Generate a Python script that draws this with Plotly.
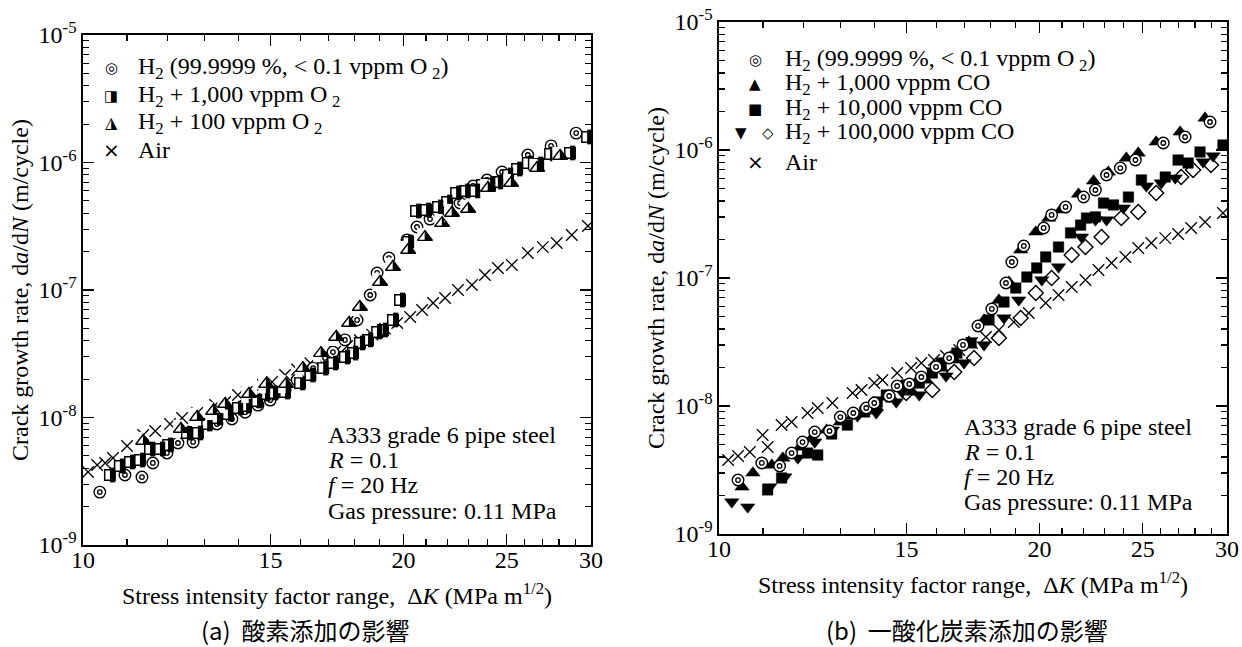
import math
import plotly.graph_objects as go

# ---------------- Panel (a): effect of oxygen addition ----------------
a_air_dk = [10.11, 10.31, 10.49, 10.67, 11.0, 11.39, 11.69, 12.07, 12.39, 12.80, 13.31, 13.60, 13.98, 14.25,
            14.76, 15.05, 15.48, 15.89, 16.35, 16.78, 17.25, 17.70, 18.20, 18.69, 19.22, 19.73, 20.29, 20.82,
            21.32, 21.88, 22.50, 23.19, 23.85, 24.53, 25.28, 26.17, 27.03, 27.86, 28.78, 29.80]
a_air_rate = [3.74e-9, 4.24e-9, 4.40e-9, 4.81e-9, 5.98e-9, 7.29e-9, 7.83e-9, 8.89e-9, 9.91e-9, 1.085e-8,
              1.253e-8, 1.323e-8, 1.502e-8, 1.585e-8, 1.80e-8, 1.90e-8, 2.155e-8, 2.38e-8, 2.66e-8, 2.94e-8,
              3.28e-8, 3.62e-8, 4.04e-8, 4.47e-8, 4.98e-8, 5.51e-8, 6.14e-8, 6.97e-8, 7.91e-8, 8.65e-8,
              1.0e-7, 1.094e-7, 1.31e-7, 1.49e-7, 1.57e-7, 1.95e-7, 2.17e-7, 2.34e-7, 2.70e-7, 3.18e-7]

a_h2_dk = [10.37, 10.95, 11.36, 11.63, 11.99, 12.28, 12.69, 13.36, 13.80, 14.20, 14.60, 14.99, 15.48, 15.89,
           16.45, 16.88, 17.17, 17.62, 18.09, 18.61, 18.89, 19.38, 20.15, 20.59, 21.18, 22.02, 22.60, 23.25,
           23.96, 24.75, 26.17, 27.52, 29.05]
a_h2_rate = [2.60e-9, 3.54e-9, 3.41e-9, 4.40e-9, 5.27e-9, 6.31e-9, 6.43e-9, 8.89e-9, 9.73e-9, 1.10e-8, 1.25e-8,
             1.37e-8, 1.64e-8, 1.97e-8, 2.44e-8, 2.93e-8, 3.26e-8, 4.06e-8, 5.82e-8, 9.14e-8, 1.36e-7, 1.78e-7,
             2.47e-7, 3.12e-7, 3.60e-7, 4.17e-7, 4.81e-7, 6.54e-7, 7.29e-7, 8.42e-7, 1.145e-6, 1.35e-6, 1.70e-6]

a_o2_1000_dk = [10.60, 10.83, 11.07, 11.31, 11.56, 11.81, 12.02, 12.52, 12.82, 13.08, 13.36, 13.68, 13.98,
                14.23, 14.57, 14.82, 15.08, 15.48, 15.99, 16.35, 16.81, 17.17, 17.62, 17.93, 18.20, 18.52,
                18.89, 19.13, 19.55, 19.85, 20.20, 20.55, 21.00, 21.55, 21.98, 22.41, 22.85, 23.35, 23.70,
                24.12, 24.53, 25.07, 25.57, 26.17, 26.76, 27.46, 28.67, 29.75]
a_o2_1000_rate = [3.54e-9, 4.17e-9, 4.48e-9, 4.64e-9, 5.66e-9, 5.66e-9, 6.09e-9, 7.56e-9, 7.56e-9, 8.89e-9,
                  9.91e-9, 1.065e-8, 1.187e-8, 1.23e-8, 1.347e-8, 1.53e-8, 1.557e-8, 1.585e-8, 1.865e-8,
                  2.155e-8, 2.44e-8, 2.675e-8, 2.98e-8, 3.20e-8, 3.84e-8, 4.06e-8, 4.69e-8, 4.86e-8, 5.82e-8,
                  8.35e-8, 2.38e-7, 4.165e-7, 4.24e-7, 4.48e-7, 4.90e-7, 5.77e-7, 5.98e-7, 5.98e-7, 6.66e-7,
                  6.78e-7, 7.03e-7, 7.98e-7, 8.89e-7, 9.91e-7, 9.73e-7, 1.166e-6, 1.188e-6, 1.585e-6]

a_o2_100_dk = [11.39, 12.36, 12.80, 13.25, 13.60, 14.32, 14.86, 15.51, 16.09, 16.73, 17.29, 17.78, 18.20,
               19.01, 19.55, 20.20, 20.95, 21.74, 22.21, 23.00, 24.01, 25.24, 26.70, 28.06]
a_o2_100_rate = [6.54e-9, 8.13e-9, 1.01e-8, 1.125e-8, 1.276e-8, 1.53e-8, 1.83e-8, 1.83e-8, 2.44e-8, 3.20e-8,
                 4.28e-8, 5.51e-8, 7.36e-8, 1.156e-7, 1.515e-7, 2.06e-7, 2.60e-7, 3.35e-7, 4.02e-7, 4.32e-7,
                 6.31e-7, 6.90e-7, 9.06e-7, 1.125e-6]

# ---------------- Panel (b): effect of carbon monoxide addition ----------------
b_air_dk = [10.20, 10.42, 10.69, 10.99, 11.11, 11.45, 11.70, 12.11, 12.38, 12.78, 13.35, 13.61, 13.99, 14.24,
            14.70, 15.15, 15.49, 15.92, 16.34, 16.81, 17.28, 17.81, 18.32, 18.92, 19.54, 20.27, 20.84, 21.44,
            22.09, 22.72, 23.37, 24.08, 24.76, 25.47, 26.25, 26.99, 27.76, 28.61, 29.74]
b_air_rate = [3.79e-9, 4.07e-9, 4.37e-9, 5.93e-9, 4.78e-9, 7.10e-9, 7.50e-9, 8.82e-9, 9.65e-9, 1.055e-8,
              1.263e-8, 1.334e-8, 1.512e-8, 1.596e-8, 1.81e-8, 1.98e-8, 2.17e-8, 2.29e-8, 2.46e-8, 2.74e-8,
              3.11e-8, 3.46e-8, 3.92e-8, 4.53e-8, 5.33e-8, 6.38e-8, 7.36e-8, 8.50e-8, 9.65e-8, 1.155e-7,
              1.31e-7, 1.46e-7, 1.715e-7, 1.876e-7, 2.05e-7, 2.21e-7, 2.46e-7, 2.74e-7, 3.22e-7]

b_h2_dk = [10.42, 10.97, 11.40, 11.70, 11.98, 12.30, 12.70, 13.0, 13.37, 13.75, 13.99, 14.45, 14.70, 15.09,
           15.49, 15.99, 16.45, 16.95, 17.51, 18.04, 18.60, 18.84, 19.33, 20.18, 20.53, 21.16, 22.0, 22.57,
           23.12, 23.82, 24.61, 26.14, 27.40, 28.92]
b_h2_rate = [2.64e-9, 3.59e-9, 3.40e-9, 4.29e-9, 5.23e-9, 6.26e-9, 6.38e-9, 8.20e-9, 8.82e-9, 9.65e-9,
             1.055e-8, 1.197e-8, 1.433e-8, 1.485e-8, 1.685e-8, 2.02e-8, 2.37e-8, 3.0e-8, 4.22e-8, 5.73e-8,
             9.14e-8, 1.334e-7, 1.78e-7, 2.46e-7, 3.11e-7, 3.59e-7, 4.29e-7, 4.87e-7, 6.38e-7, 7.23e-7,
             8.35e-7, 1.134e-6, 1.263e-6, 1.655e-6]

b_co_1000_dk = [10.51, 10.76, 11.21, 11.48, 11.91, 12.22, 12.62, 13.0, 13.35, 13.70, 14.05, 14.55, 15.19,
                15.65, 16.17, 16.63, 17.17, 17.74, 18.32, 18.72, 19.20, 19.84, 20.40, 20.94, 21.76, 22.48,
                23.21, 24.13, 24.76, 25.74, 27.11, 28.61]
b_co_1000_rate = [2.33e-9, 3.0e-9, 3.46e-9, 3.92e-9, 4.78e-9, 5.62e-9, 6.49e-9, 7.50e-9, 8.35e-9, 9.14e-9,
                  9.82e-9, 1.134e-8, 1.286e-8, 1.596e-8, 1.98e-8, 2.29e-8, 3.16e-8, 4.70e-8, 6.73e-8, 9.31e-8,
                  1.655e-7, 2.29e-7, 2.94e-7, 3.40e-7, 4.53e-7, 5.73e-7, 6.73e-7, 8.66e-7, 9.47e-7, 1.155e-6,
                  1.383e-6, 1.778e-6]

b_co_10000_dk = [11.11, 11.45, 12.11, 12.38, 12.76, 13.20, 13.70, 14.08, 14.36, 14.99, 15.42, 15.86, 16.17,
                 16.73, 17.25, 17.93, 18.52, 19.0, 19.46, 19.88, 20.27, 20.84, 21.39, 21.86, 22.14, 22.57,
                 22.97, 23.47, 24.24, 24.93, 26.25, 26.99, 27.58, 28.30, 29.74]
b_co_10000_rate = [2.21e-9, 2.74e-9, 4.29e-9, 4.14e-9, 6.04e-9, 7.10e-9, 8.98e-9, 1.075e-8, 1.219e-8,
                   1.459e-8, 1.512e-8, 1.81e-8, 2.17e-8, 2.59e-8, 3.11e-8, 4.70e-8, 6.49e-8, 8.35e-8,
                   1.018e-7, 1.197e-7, 1.46e-7, 1.746e-7, 2.25e-7, 2.59e-7, 2.94e-7, 3.0e-7, 3.85e-7,
                   3.72e-7, 4.29e-7, 5.83e-7, 6.15e-7, 8.35e-7, 7.91e-7, 9.65e-7, 1.094e-6]

b_co_1e5_tri_dk = [10.28, 10.64, 11.16, 11.53, 11.86, 12.30, 12.78, 13.49, 14.05, 14.67, 14.86, 15.42, 16.34,
                   16.99, 17.74, 18.52, 19.12, 20.10, 20.84, 21.90, 22.57, 23.12, 23.98, 25.20, 26.02, 26.82,
                   28.49, 29.11]
b_co_1e5_tri_rate = [1.78e-9, 1.625e-9, 2.33e-9, 2.79e-9, 3.92e-9, 5.23e-9, 6.49e-9, 8.35e-9, 8.82e-9,
                     1.075e-8, 1.286e-8, 1.219e-8, 1.715e-8, 2.17e-8, 3.0e-8, 4.87e-8, 6.73e-8, 9.65e-8,
                     1.219e-7, 2.09e-7, 2.84e-7, 2.84e-7, 3.52e-7, 5.23e-7, 5.53e-7, 6.04e-7, 8.06e-7, 8.98e-7]

b_co_1e5_dia_dk = [14.99, 15.86, 16.63, 17.36, 18.32, 19.20, 19.84, 20.53, 21.44, 22.09, 22.87, 23.87, 24.76,
                   25.74, 27.17, 27.88, 28.98]
b_co_1e5_dia_rate = [1.263e-8, 1.334e-8, 1.843e-8, 2.37e-8, 3.40e-8, 4.87e-8, 7.63e-8, 1.0e-7, 1.512e-7,
                     1.746e-7, 2.09e-7, 2.94e-7, 3.28e-7, 4.61e-7, 6.15e-7, 6.98e-7, 7.63e-7]

# ---------------- Axis ticks ----------------
x_major = [10, 15, 20, 25, 30]
x_major_text = ["10", "15", "20", "25", "30"]
x_minor = [11, 12, 13, 14, 16, 17, 18, 19, 21, 22, 23, 24, 26, 27, 28, 29]
y_major = [1e-9, 1e-8, 1e-7, 1e-6, 1e-5]
y_major_text = ["10<sup>-9</sup>", "10<sup>-8</sup>", "10<sup>-7</sup>", "10<sup>-6</sup>", "10<sup>-5</sup>"]
y_minor = [k * 10.0 ** e for e in (-9, -8, -7, -6) for k in range(2, 10)]

SERIF = "Liberation Serif, Times New Roman, serif"
GLYPH = "DejaVu Sans"
CJK = "Noto Sans CJK JP"
FS = 24

fig = go.Figure()


def add(dk, rate, xa, ya, **marker):
    fig.add_trace(go.Scatter(x=dk, y=rate, mode="markers", xaxis=xa, yaxis=ya, showlegend=False,
                             marker=marker))


def ring_marker(dk, rate, xa, ya):
    add(dk, rate, xa, ya, symbol="circle", size=11.5, color="white", line=dict(color="black", width=1.4))
    add(dk, rate, xa, ya, symbol="circle", size=4.5, color="white", line=dict(color="black", width=1.3))


def half_square(dk, rate, xa, ya, s=10.5):
    # white square with black border, right half filled black
    add(dk, rate, xa, ya, symbol="square", size=s, color="white", line=dict(color="black", width=1.5))
    add(dk, rate, xa, ya, symbol="line-ew", size=s, angle=-90, standoff=s / 4, color="black",
        line=dict(color="black", width=s / 2))


def half_triangle(dk, rate, xa, ya, s=13):
    # up-pointing triangle, right half black
    half_base = s / math.sqrt(3)
    add(dk, rate, xa, ya, symbol="triangle-up", size=s, color="black", line=dict(color="black", width=0))
    add(dk, rate, xa, ya, symbol="line-ew", size=s, angle=90, standoff=half_base / 2 + 0.3, color="white",
        line=dict(color="white", width=half_base))
    add(dk, rate, xa, ya, symbol="triangle-up-open", size=s, color="black", line=dict(color="black", width=1.4))


# Panel (a)
add(a_air_dk, a_air_rate, "x", "y", symbol="x-thin-open", size=11.5, color="black",
    line=dict(color="black", width=1.3))
ring_marker(a_h2_dk, a_h2_rate, "x", "y")
half_square(a_o2_1000_dk, a_o2_1000_rate, "x", "y")
half_triangle(a_o2_100_dk, a_o2_100_rate, "x", "y")

# Panel (b)
add(b_air_dk, b_air_rate, "x2", "y2", symbol="x-thin-open", size=11.5, color="black",
    line=dict(color="black", width=1.3))
add(b_co_1e5_dia_dk, b_co_1e5_dia_rate, "x2", "y2", symbol="diamond", size=11.5, color="white",
    line=dict(color="black", width=1.4))
add(b_co_1e5_tri_dk, b_co_1e5_tri_rate, "x2", "y2", symbol="triangle-down", size=12.5, color="black",
    line=dict(color="black", width=0.5))
add(b_co_10000_dk, b_co_10000_rate, "x2", "y2", symbol="square", size=10.5, color="black",
    line=dict(color="black", width=0.5))
add(b_co_1000_dk, b_co_1000_rate, "x2", "y2", symbol="triangle-up", size=12.5, color="black",
    line=dict(color="black", width=0.5))
ring_marker(b_h2_dk, b_h2_rate, "x2", "y2")

xtitle = "Stress intensity factor range,\u00a0 \u0394<i>K</i> (MPa m<sup>1/2</sup>)"
ytitle = "Crack growth rate, d<i>a</i>/d<i>N</i> (m/cycle)"


def xaxis(domain, anchor):
    return dict(type="log", range=[1, math.log10(30)], domain=domain, anchor=anchor, automargin=False,
                tickmode="array", tickvals=x_major, ticktext=x_major_text, ticklabeloverflow="allow",
                ticklabelstandoff=-7,
                ticks="inside", ticklen=11, tickwidth=1.3, tickcolor="black",
                minor=dict(tickmode="array", tickvals=x_minor, ticks="inside", ticklen=6,
                           tickwidth=1.2, tickcolor="black", showgrid=False),
                showline=True, linewidth=1.6, linecolor="black", mirror="ticks",
                showgrid=False, zeroline=False,
                tickfont=dict(family=SERIF, size=FS, color="black"),
                title=dict(text=xtitle, font=dict(family=SERIF, size=FS, color="black"), standoff=15))


def yaxis(domain, anchor):
    return dict(type="log", range=[-9, -5], domain=domain, anchor=anchor, automargin=False,
                tickmode="array", tickvals=y_major, ticktext=y_major_text, ticklabeloverflow="allow",
                ticks="inside", ticklen=11, tickwidth=1.3, tickcolor="black",
                minor=dict(tickmode="array", tickvals=y_minor, ticks="inside", ticklen=6,
                           tickwidth=1.2, tickcolor="black", showgrid=False),
                showline=True, linewidth=1.6, linecolor="black", mirror="ticks",
                showgrid=False, zeroline=False,
                tickfont=dict(family=SERIF, size=FS, color="black"),
                title=dict(text=ytitle, font=dict(family=SERIF, size=FS, color="black"), standoff=3))


W, H = 1242, 647


def px(xp):
    return xp / W


def py(yp):
    return 1 - yp / H


annotations = []


def note(xp, yp, text, family=SERIF, size=FS, xanchor="left"):
    annotations.append(dict(x=px(xp), y=py(yp), xref="paper", yref="paper", text=text, showarrow=False,
                            xanchor=xanchor, yanchor="middle", borderpad=0,
                            font=dict(family=family, size=size, color="black")))


# Legend (a)
legend_a = [("\u25CE", 15, "H<sub>2</sub> (99.9999 %, &lt; 0.1 vppm O\u2009<sub>2</sub>)"),
            ("\u25E8", 15, "H<sub>2</sub> + 1,000 vppm O\u2009<sub>2</sub>"),
            ("\u25EE", 16, "H<sub>2</sub> + 100 vppm O\u2009<sub>2</sub>"),
            ("\u00D7", 20, "Air")]
for (g, gs, label), yp in zip(legend_a, [68, 96, 123, 150]):
    note(111, yp, g, family=GLYPH, size=gs, xanchor="center")
    note(137, yp, label)

# Legend (b)
legend_b_rows = [60, 84, 109, 133, 162]
legend_b = ["H<sub>2</sub> (99.9999 %, &lt; 0.1 vppm O\u2009<sub>2</sub>)",
            "H<sub>2</sub> + 1,000 vppm CO",
            "H<sub>2</sub> + 10,000 vppm CO",
            "H<sub>2</sub> + 100,000 vppm CO",
            "Air"]
legend_b_glyphs = [(755, "\u25CE", 15), (755, "\u25B2", 15), (755, "\u25A0", 15), None, (755, "\u00D7", 20)]
for item, yp in zip(legend_b_glyphs, legend_b_rows):
    if item is None:
        note(741, yp, "\u25BC", family=GLYPH, size=15, xanchor="center")
        note(768, yp, "\u25C7", family=GLYPH, size=15, xanchor="center")
    else:
        note(item[0], yp, item[1], family=GLYPH, size=item[2], xanchor="center")
for label, yp in zip(legend_b, legend_b_rows):
    note(784, yp, label)

# Condition notes
cond = ["A333 grade 6 pipe steel", "<i>R</i> = 0.1", "<i>f</i> = 20 Hz", "Gas pressure: 0.11 MPa"]
for t, yp in zip(cond, [435, 460, 485, 511]):
    note(327, yp, t)
for t, yp in zip(cond, [427, 452, 477, 502]):
    note(963, yp, t)

# Captions
note(305, 629, "(a)\u00a0 酸素添加の影響", family=CJK, size=24, xanchor="center")
note(967, 629, "(b)\u00a0 一酸化炭素添加の影響", family=CJK, size=24, xanchor="center")

fig.update_layout(
    width=W, height=H, margin=dict(l=0, r=0, t=0, b=0, autoexpand=False),
    paper_bgcolor="white", plot_bgcolor="white", showlegend=False, hovermode=False,
    xaxis=xaxis([px(83), px(591)], "y"),
    yaxis=yaxis([py(545), py(35)], "x"),
    xaxis2=xaxis([px(719), px(1227)], "y2"),
    yaxis2=yaxis([py(534), py(22)], "x2"),
    annotations=annotations,
)

# The page body has a default 8px margin; remove it so the figure fills the window exactly.
fig.write_html("out.html", config={"displayModeBar": False, "staticPlot": True},
               post_script="document.body.style.margin='0';")
